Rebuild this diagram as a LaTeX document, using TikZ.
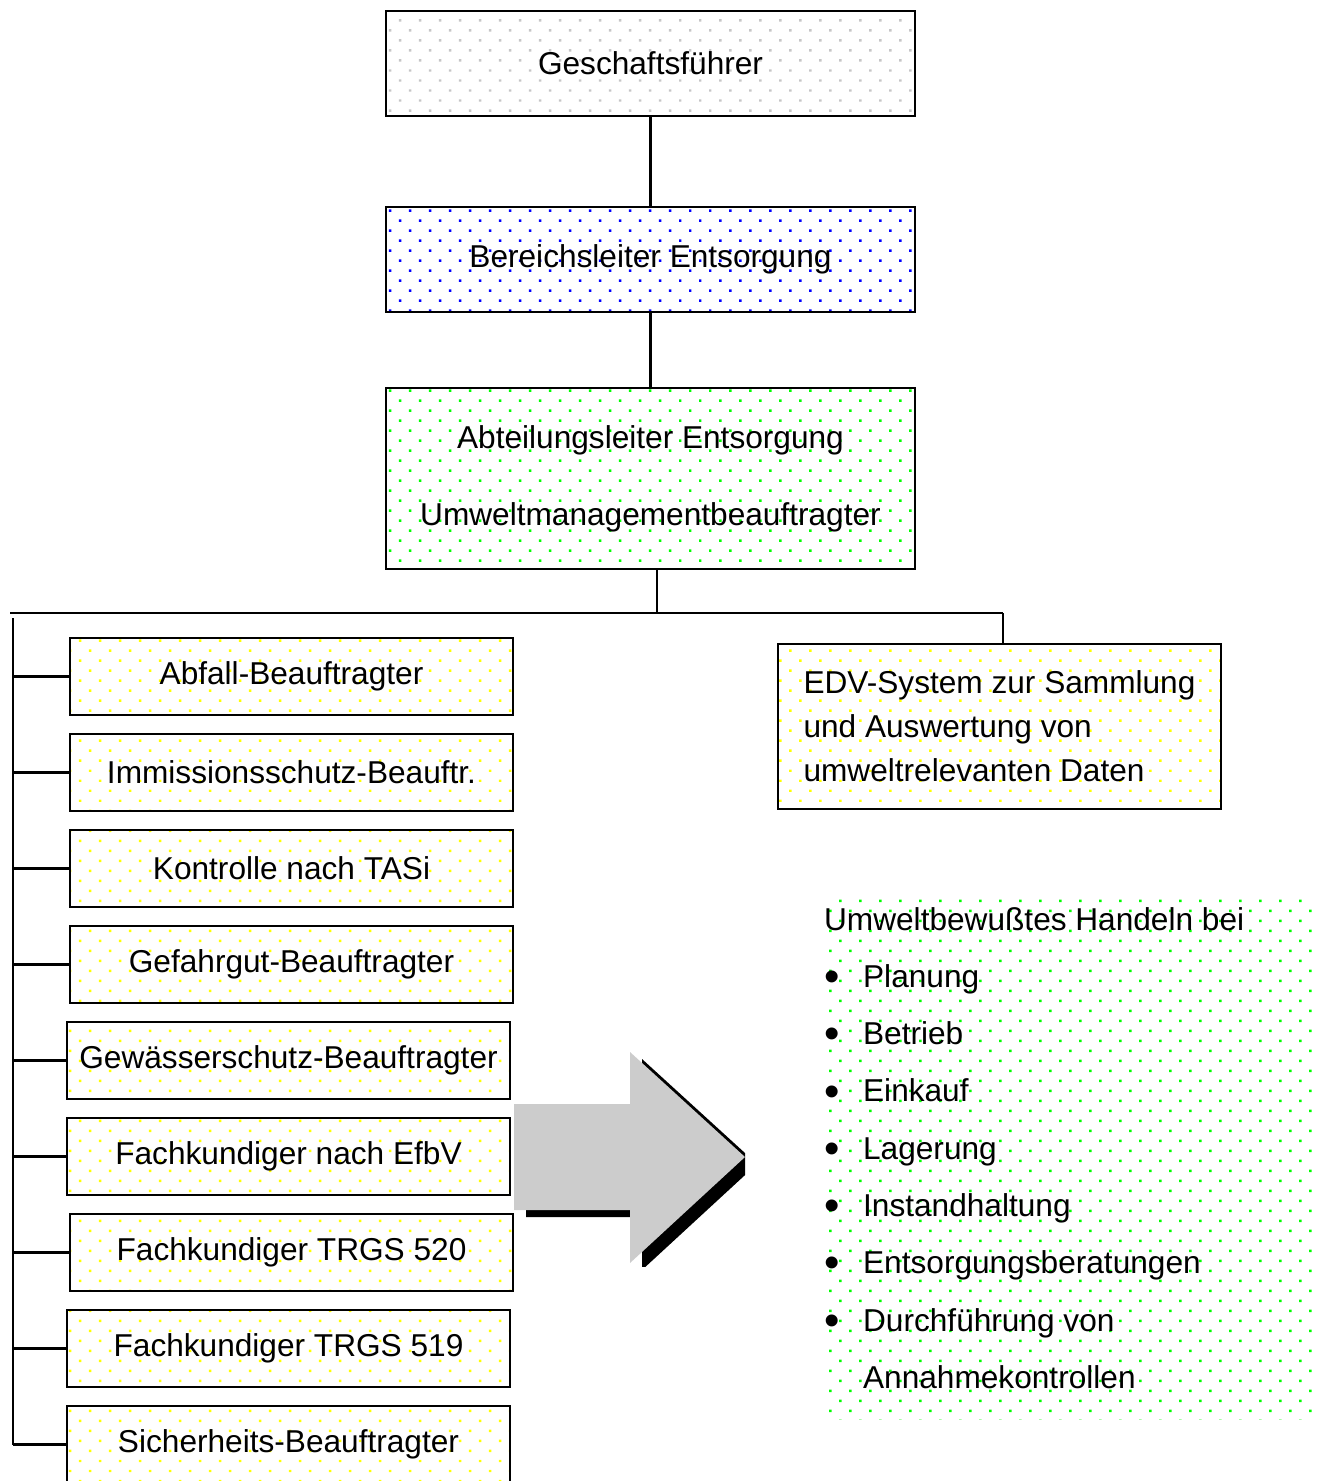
\documentclass[tikz,border=0pt]{standalone}
\usepackage{fontspec}
\setmainfont{Liberation Sans}
\usetikzlibrary{patterns.meta}

\newcommand{\blt}{\makebox[0.78cm][l]{\raisebox{-0.25ex}{\fontsize{25}{25}\selectfont\textbullet}}}

\begin{document}
\begin{tikzpicture}[x=0.02cm, y=-0.02cm, line width=1.3pt]
	\useasboundingbox (0,0) rectangle (1316,1481);
	\tikzstyle{box} = [draw, rectangle, inner sep=0pt, align=center, font=\fontsize{18}{22}\selectfont]
	\tikzstyle{topbox} = [box, minimum width=10.58cm, minimum height=2.1cm]
	\tikzstyle{dutybox} = [box, minimum width=8.86cm, minimum height=1.54cm, pattern={Dots[distance=2.83mm, radius=1pt, angle=45]}, pattern color=yellow]
	\tikzstyle{graydots} = [pattern={Dots[distance=2.83mm, radius=1pt, angle=45]}, pattern color=gray!45]
	\tikzstyle{bluedots} = [pattern={Dots[distance=2.83mm, radius=1pt, angle=45]}, pattern color=blue]
	\tikzstyle{greendots} = [pattern={Dots[distance=2.83mm, radius=1pt, angle=45]}, pattern color=green]
	\tikzstyle{yellowdots} = [pattern={Dots[distance=2.83mm, radius=1pt, angle=45]}, pattern color=yellow]
	\node[topbox, graydots] (gf) at (650.5, 63.5) {Geschaftsführer};
	\node[topbox, bluedots] (bl) at (650.5, 259.5) {Bereichsleiter Entsorgung};
	\node[box, greendots, minimum width=10.58cm, minimum height=3.62cm] (al) at (650.5, 478.5) {Abteilungsleiter Entsorgung\\[0.76cm]Umweltmanagementbeauftragter};
	\node[dutybox] (abfall) at (291.5, 676.5) {Abfall-Beauftragter};
	\node[dutybox] (immission) at (291.5, 772.5) {Immissionsschutz-Beauftr.};
	\node[dutybox] (kontrolle) at (291.5, 868.5) {Kontrolle nach TASi};
	\node[dutybox] (gefahrgut) at (291.5, 964.5) {Gefahrgut-Beauftragter};
	\node[dutybox] (gewaesser) at (288.5, 1060.5) {Gewässerschutz-Beauftragter};
	\node[dutybox] (efbv) at (288.5, 1156.5) {Fachkundiger nach EfbV};
	\node[dutybox] (trgsa) at (291.5, 1252.5) {Fachkundiger TRGS 520};
	\node[dutybox] (trgsb) at (288.5, 1348.5) {Fachkundiger TRGS 519};
	\node[dutybox] (sicherheit) at (288.5, 1444.5) {Sicherheits-Beauftragter};
	\node[box, yellowdots, align=left, minimum width=8.86cm, minimum height=3.3cm, font=\fontsize{18}{25}\selectfont] (edv) at (999.5, 726.5) {EDV-System zur Sammlung\\und Auswertung von\\umweltrelevanten Daten};
	\node[rectangle, greendots, minimum width=9.88cm, minimum height=10.44cm] (feld) at (1069, 1159) {};
	\node[anchor=north west, inner sep=0pt, align=left, font=\fontsize{18}{32.6}\selectfont] (handeln) at (823, 906) {Umweltbewußtes Handeln bei\\
		\blt Planung\\
		\blt Betrieb\\
		\blt Einkauf\\
		\blt Lagerung\\
		\blt Instandhaltung\\
		\blt Entsorgungsberatungen\\
		\blt Durchführung von\\
		\hspace*{0.78cm}Annahmekontrollen};
	\coordinate (busl) at (10, 613);
	\coordinate (busm) at (657, 613);
	\coordinate (busr) at (1003, 613);
	\coordinate (railt) at (13, 618);
	\coordinate (railb) at (13, 1444.5);
	\draw [-] (gf.south)--(bl.north);
	\draw [-] (bl.south)--(al.north);
	\draw [-] (busm |- al.south)--(busm);
	\draw [-] (busl)--(busr);
	\draw [-] (busr)--(busr |- edv.north);
	\draw [-] (railt)--(railb);
	\draw [-] (abfall.west)--(abfall.west -| railt);
	\draw [-] (immission.west)--(immission.west -| railt);
	\draw [-] (kontrolle.west)--(kontrolle.west -| railt);
	\draw [-] (gefahrgut.west)--(gefahrgut.west -| railt);
	\draw [-] (gewaesser.west)--(gewaesser.west -| railt);
	\draw [-] (efbv.west)--(efbv.west -| railt);
	\draw [-] (trgsa.west)--(trgsa.west -| railt);
	\draw [-] (trgsb.west)--(trgsb.west -| railt);
	\draw [-] (sicherheit.west)--(sicherheit.west -| railt);
	\begin{scope}
		\clip (0,0) rectangle (745,1266);
		\fill[black, shift={(12,7)}] (514,1104) -- (630,1104) -- (630,1052) -- (745,1157) -- (630,1263) -- (630,1210) -- (514,1210) -- cycle;
	\end{scope}
	\fill[gray!40] (514,1104) -- (630,1104) -- (630,1052) -- (745,1157) -- (630,1263) -- (630,1210) -- (514,1210) -- cycle;
\end{tikzpicture}
\end{document}
